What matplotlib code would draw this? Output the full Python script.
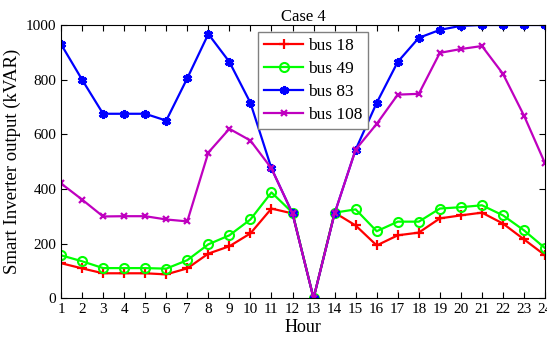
import numpy as np
import matplotlib.pyplot as plt

plt.rcParams['font.family'] = ['Liberation Serif', 'DejaVu Serif']

hours = np.arange(1, 25)
bus18 = [128, 109, 91, 91, 91, 87, 109, 163, 190, 237, 328, 310, 0, 313,
         266, 193, 230, 240, 292, 303, 313, 273, 215, 157]
bus49 = [157, 135, 110, 110, 110, 108, 139, 197, 230, 288, 387, 313, 0, 313,
         325, 245, 280, 280, 328, 333, 340, 303, 248, 183]
bus83 = [930, 800, 675, 675, 675, 650, 805, 967, 865, 715, 475, 310, 0, 310,
         544, 715, 865, 953, 982, 997, 1000, 1000, 1000, 1000]
bus108 = [420, 361, 299, 300, 300, 288, 281, 533, 620, 577, 475, 310, 0, 310,
          544, 638, 745, 748, 898, 912, 923, 821, 668, 493]

fig = plt.figure(figsize=(5.47, 3.52), dpi=100)
ax = fig.add_axes([0.1115, 0.153, 0.885, 0.776])

ax.plot(hours, bus18, color='#ff0000', lw=1.6, marker='+', ms=7, mew=1.6, label='bus 18')
ax.plot(hours, bus49, color='#00ff00', lw=1.6, marker='o', ms=6.5, mew=1.5,
        mfc='none', label='bus 49')
ax.plot(hours, bus83, color='#0000ff', lw=1.6, marker=(6, 2, 0), ms=6.5, mew=2.2,
        label='bus 83')
ax.plot(hours, bus108, color='#bf00bf', lw=1.6, marker='x', ms=5, mew=1.6,
        label='bus 108')

ax.set_xlim(1, 24)
ax.set_ylim(0, 1000)
ax.set_xticks(hours)
ax.set_yticks(np.arange(0, 1001, 200))
ax.tick_params(direction='in', top=True, right=True, labelsize=11, length=4)
ax.set_xlabel('Hour', fontsize=13, labelpad=2)
ax.set_ylabel('Smart Inverter output (kVAR)', fontsize=13.5, labelpad=3)
ax.set_title('Case 4', fontsize=12, pad=3)

leg = ax.legend(loc='upper left', bbox_to_anchor=(0.397, 0.995), fontsize=12.5,
                fancybox=False, framealpha=1, edgecolor='#808080',
                handlelength=2.2, borderpad=0.35, labelspacing=0.4,
                handletextpad=0.3, borderaxespad=0.3, markerscale=1)
leg.get_frame().set_linewidth(1)

fig.savefig('out.png', dpi=100)
